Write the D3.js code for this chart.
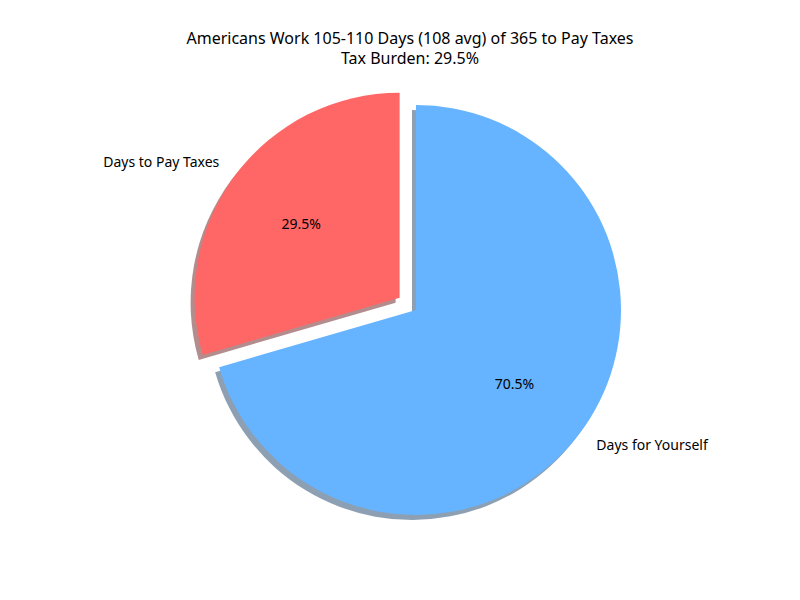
<!DOCTYPE html>
<html><head><meta charset="utf-8">
<script src="https://cdn.jsdelivr.net/npm/d3@7"></script>
<style>body{margin:0;background:#fff}text{font-family:"Noto Sans",sans-serif}</style>
</head><body>
<svg id="chart" width="800" height="600"></svg>
<script>
const labels = ['Days to Pay Taxes', 'Days for Yourself'];
const shares = [29.5, 70.5];
const colors = ['#ff6666', '#66b3ff'];
const explode = [0.1, 0];
const titleLines = ['Americans Work 105-110 Days (108 avg) of 365 to Pay Taxes', 'Tax Burden: 29.5%'];

const svg = d3.select('#chart');
const cx = 416, cy = 310, r = 205;

// counterclockwise from 12 o'clock, like matplotlib startangle=90
const pie = d3.pie().sort(null).startAngle(0).endAngle(-2 * Math.PI);
const arcs = pie(shares);
const arc = d3.arc().innerRadius(0).outerRadius(r);

function offset(d, i) {
  const a = (d.startAngle + d.endAngle) / 2;
  return [Math.sin(a) * explode[i] * r, -Math.cos(a) * explode[i] * r];
}

const g = svg.append('g').attr('transform', `translate(${cx},${cy})`);

// shadows
g.selectAll('path.shadow').data(arcs).enter().append('path')
  .attr('class', 'shadow')
  .attr('d', arc)
  .attr('transform', (d, i) => { const o = offset(d, i); return `translate(${o[0] - 4},${o[1] + 5})`; })
  .attr('fill', (d, i) => d3.rgb(colors[i]).darker(2.2))
  .attr('opacity', 0.55);

g.selectAll('path.slice').data(arcs).enter().append('path')
  .attr('class', 'slice')
  .attr('d', arc)
  .attr('transform', (d, i) => { const o = offset(d, i); return `translate(${o[0]},${o[1]})`; })
  .attr('fill', (d, i) => colors[i]);

const pctArc = d3.arc().innerRadius(r * 0.6).outerRadius(r * 0.6);
g.selectAll('text.pct').data(arcs).enter().append('text')
  .attr('class', 'pct')
  .attr('transform', (d, i) => { const c = pctArc.centroid(d), o = offset(d, i); return `translate(${c[0] + o[0]},${c[1] + o[1]})`; })
  .attr('text-anchor', 'middle').attr('dy', '0.35em')
  .attr('font-size', 14).attr('fill', '#000')
  .text((d, i) => shares[i].toFixed(1) + '%');

const lblArc = d3.arc().innerRadius(r * 1.1).outerRadius(r * 1.1);
g.selectAll('text.lbl').data(arcs).enter().append('text')
  .attr('class', 'lbl')
  .attr('transform', (d, i) => { const c = lblArc.centroid(d), o = offset(d, i); return `translate(${c[0] + o[0]},${c[1] + o[1]})`; })
  .attr('text-anchor', d => lblArc.centroid(d)[0] < 0 ? 'end' : 'start').attr('dy', '0.35em')
  .attr('font-size', 14).attr('fill', '#000')
  .text((d, i) => labels[i]);

svg.selectAll('text.title').data(titleLines).enter().append('text')
  .attr('class', 'title')
  .attr('x', 410).attr('y', (d, i) => 44 + i * 20)
  .attr('text-anchor', 'middle').attr('font-size', 16)
  .text(d => d);
</script>
</body></html>
